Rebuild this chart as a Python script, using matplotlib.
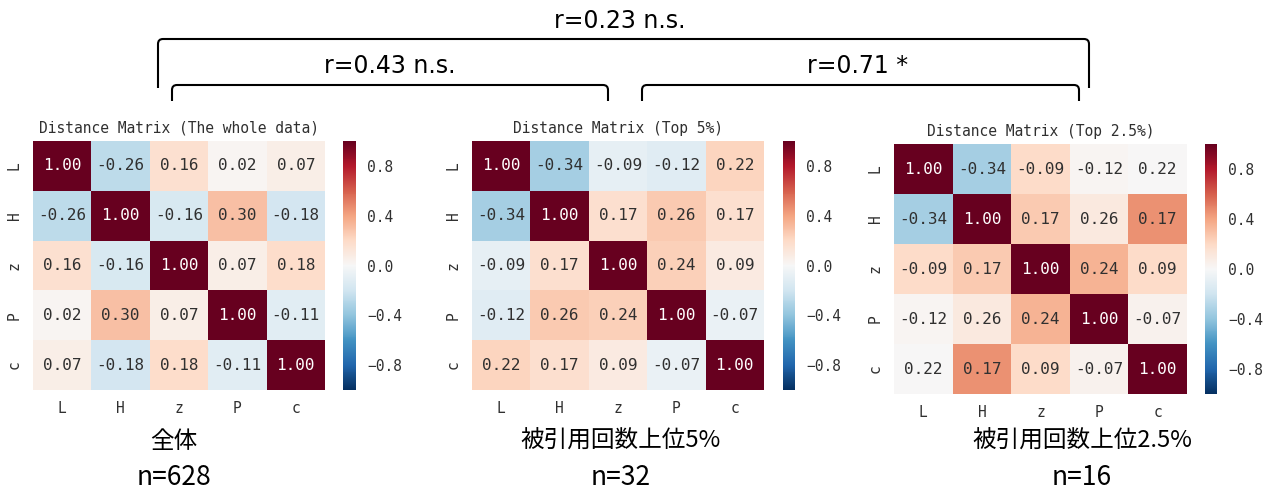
import numpy as np
import matplotlib
matplotlib.use("Agg")
import matplotlib.pyplot as plt
import seaborn as sns
from matplotlib.path import Path
from matplotlib.patches import PathPatch

W, H = 1268, 490

variables = ["L", "H", "z", "P", "c"]

corr_all = np.array([
    [1.00, -0.26, 0.16, 0.02, 0.07],
    [-0.26, 1.00, -0.16, 0.30, -0.18],
    [0.16, -0.16, 1.00, 0.07, 0.18],
    [0.02, 0.30, 0.07, 1.00, -0.11],
    [0.07, -0.18, 0.18, -0.11, 1.00],
])

corr_top5 = np.array([
    [1.00, -0.34, -0.09, -0.12, 0.22],
    [-0.34, 1.00, 0.17, 0.26, 0.17],
    [-0.09, 0.17, 1.00, 0.24, 0.09],
    [-0.12, 0.26, 0.24, 1.00, -0.07],
    [0.22, 0.17, 0.09, -0.07, 1.00],
])

# cell colours of the 2.5% panel (its annotations reuse the 5% numbers)
corr_top25 = np.array([
    [1.00, -0.34, 0.19, 0.02, 0.00],
    [-0.34, 1.00, 0.26, 0.10, 0.46],
    [0.19, 0.26, 1.00, 0.35, 0.19],
    [0.02, 0.10, 0.35, 1.00, 0.04],
    [0.00, 0.46, 0.19, 0.04, 1.00],
])

titles = [
    "Distance Matrix (The whole data)",
    "Distance Matrix (Top 5%)",
    "Distance Matrix (Top 2.5%)",
]
group_names = ["全体", "被引用回数上位5%", "被引用回数上位2.5%"]
group_sizes = [628, 32, 16]
pair_labels = ["r=0.23 n.s.", "r=0.43 n.s.", "r=0.71 *"]

cbar_ticks = [-0.8, -0.4, 0.0, 0.4, 0.8]

# pixel boxes: (left, top, width, height)
heat_boxes = [(33, 141, 292, 249), (472, 141, 292, 249), (894, 144, 293, 250)]
cbar_boxes = [(343, 141, 13, 249), (783, 141, 12, 249), (1205, 144, 12, 250)]

fig = plt.figure(figsize=(W / 100, H / 100), dpi=100)
mono = "DejaVu Sans Mono"
ink = "#303030"


def px_axes(box):
    x, y, w, h = box
    return fig.add_axes([x / W, 1 - (y + h) / H, w / W, h / H])


panels = [
    (corr_all, corr_all),
    (corr_top5, corr_top5),
    (corr_top25, corr_top5),
]

for (colors, annot), title, hb, cb in zip(panels, titles, heat_boxes, cbar_boxes):
    ax = px_axes(hb)
    cax = px_axes(cb)
    sns.heatmap(
        colors, annot=annot, fmt=".2f", cmap="RdBu_r", vmin=-1, vmax=1,
        xticklabels=variables, yticklabels=variables,
        ax=ax, cbar_ax=cax,
        annot_kws={"fontsize": 11.5, "family": mono},
    )
    # white text only on the diagonal cells
    for t in ax.texts:
        t.set_color("white" if t.get_text() == "1.00" else ink)
    ax.set_title(title, fontsize=10.5, family=mono, color=ink, pad=6)
    ax.tick_params(length=0, pad=8, labelsize=10.5, colors=ink)
    for t in ax.get_xticklabels():
        t.set_family(mono)
        t.set_rotation(0)
    for t in ax.get_yticklabels():
        t.set_family(mono)
        t.set_rotation(90)
        t.set_va("center")
    cax.set_yticks(cbar_ticks)
    cax.set_yticklabels([f"{v:.1f}".replace("-", "\u2212") for v in cbar_ticks],
                        family=mono, fontsize=10.5, color=ink)
    cax.tick_params(length=0, pad=8)

# overlay in pixel coordinates for brackets and captions
ov = fig.add_axes([0, 0, 1, 1], zorder=5)
ov.set_xlim(0, W)
ov.set_ylim(H, 0)
ov.axis("off")
ov.patch.set_alpha(0)


def bracket(x0, x1, y_top, y_bot, r=5):
    verts = [
        (x0, y_bot), (x0, y_top + r), (x0, y_top), (x0 + r, y_top),
        (x1 - r, y_top), (x1, y_top), (x1, y_top + r), (x1, y_bot),
    ]
    codes = [Path.MOVETO, Path.LINETO, Path.CURVE3, Path.CURVE3,
             Path.LINETO, Path.CURVE3, Path.CURVE3, Path.LINETO]
    ov.add_patch(PathPatch(Path(verts, codes), fill=False, lw=1.5,
                           edgecolor="black", capstyle="butt"))


bracket(158, 1089, 39, 88)
bracket(172, 608, 85, 101)
bracket(642, 1079, 85, 101)

label_pos = [(620, 21), (390, 66), (858, 66)]
for text, (x, y) in zip(pair_labels, label_pos):
    ov.text(x, y, text, ha="center", va="center", fontsize=17,
            family="DejaVu Sans", color="black")

cjk = ["Noto Sans CJK JP", "DejaVu Sans"]
for name, n, x in zip(group_names, group_sizes, [174, 621, 1082]):
    ov.text(x, 441, name, ha="center", va="center", fontsize=17, family=cjk)
    ov.text(x, 477, f"n={n}", ha="center", va="center", fontsize=19, family=cjk)

fig.savefig("out.png", dpi=100)
